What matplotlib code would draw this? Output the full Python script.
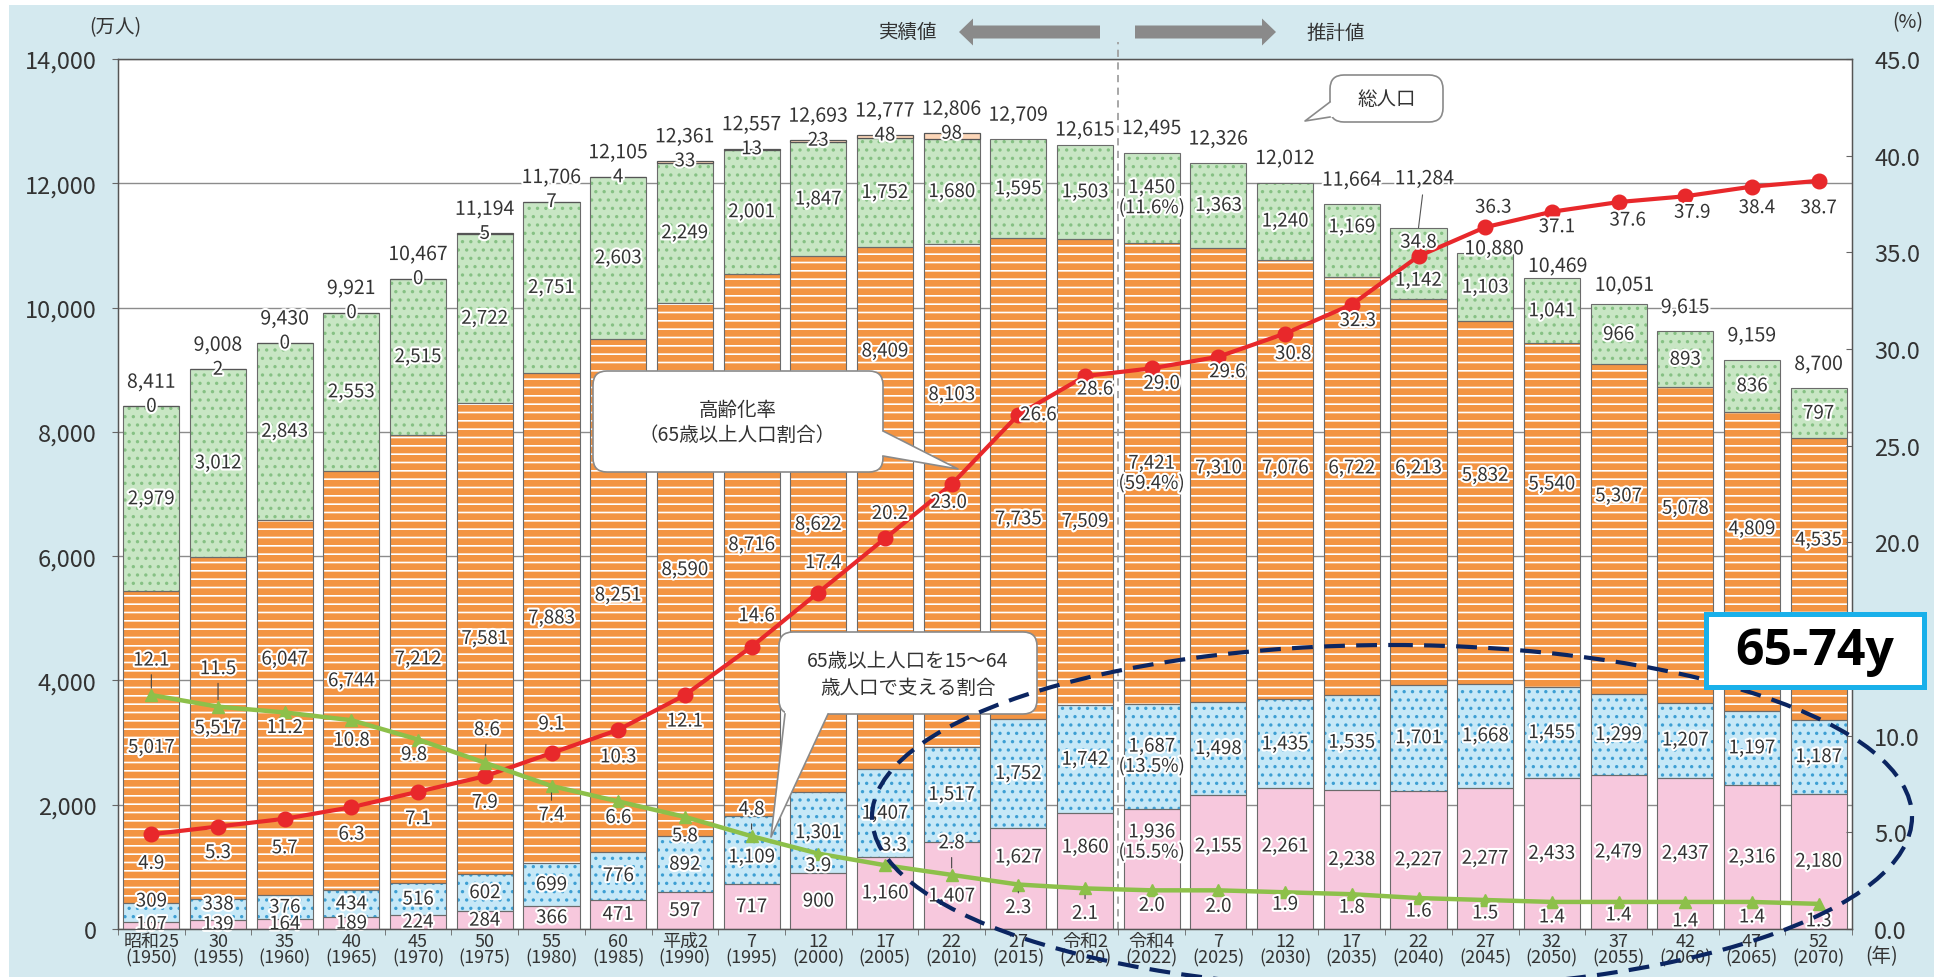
import numpy as np
import matplotlib
matplotlib.use("Agg")
import matplotlib.pyplot as plt
import matplotlib.patheffects as pe
import matplotlib.transforms as mtransforms
from matplotlib.patches import Rectangle, FancyBboxPatch, Polygon, Ellipse, FancyArrow
from matplotlib.lines import Line2D

plt.rcParams['font.family'] = ['Noto Sans CJK JP', 'DejaVu Sans']
plt.rcParams['hatch.linewidth'] = 1.2

W, H = 1934, 978

# --- données ---
era = ["昭和25", "30", "35", "40", "45", "50", "55", "60", "平成2", "7", "12", "17", "22",
       "27", "令和2", "令和4", "7", "12", "17", "22", "27", "32", "37", "42", "47", "52"]
years = [1950, 1955, 1960, 1965, 1970, 1975, 1980, 1985, 1990, 1995, 2000, 2005, 2010,
         2015, 2020, 2022, 2025, 2030, 2035, 2040, 2045, 2050, 2055, 2060, 2065, 2070]
age75 = [107, 139, 164, 189, 224, 284, 366, 471, 597, 717, 900, 1160, 1407,
         1627, 1860, 1936, 2155, 2261, 2238, 2227, 2277, 2433, 2479, 2437, 2316, 2180]
age65 = [309, 338, 376, 434, 516, 602, 699, 776, 892, 1109, 1301, 1407, 1517,
         1752, 1742, 1687, 1498, 1435, 1535, 1701, 1668, 1455, 1299, 1207, 1197, 1187]
age15 = [5017, 5517, 6047, 6744, 7212, 7581, 7883, 8251, 8590, 8716, 8622, 8409, 8103,
         7735, 7509, 7421, 7310, 7076, 6722, 6213, 5832, 5540, 5307, 5078, 4809, 4535]
age0 = [2979, 3012, 2843, 2553, 2515, 2722, 2751, 2603, 2249, 2001, 1847, 1752, 1680,
        1595, 1503, 1450, 1363, 1240, 1169, 1142, 1103, 1041, 966, 893, 836, 797]
unknown = [0, 2, 0, 0, 0, 5, 7, 4, 33, 13, 23, 48, 98]
totals = [8411, 9008, 9430, 9921, 10467, 11194, 11706, 12105, 12361, 12557, 12693, 12777, 12806,
          12709, 12615, 12495, 12326, 12012, 11664, 11284, 10880, 10469, 10051, 9615, 9159, 8700]
aging = [4.9, 5.3, 5.7, 6.3, 7.1, 7.9, 9.1, 10.3, 12.1, 14.6, 17.4, 20.2, 23.0,
         26.6, 28.6, 29.0, 29.6, 30.8, 32.3, 34.8, 36.3, 37.1, 37.6, 37.9, 38.4, 38.7]
support = [12.1, 11.5, 11.2, 10.8, 9.8, 8.6, 7.4, 6.6, 5.8, 4.8, 3.9, 3.3, 2.8,
           2.3, 2.1, 2.0, 2.0, 1.9, 1.8, 1.6, 1.5, 1.4, 1.4, 1.4, 1.4, 1.3]
shares_2022 = [15.5, 13.5, 59.4, 11.6]   # 75+, 65-74, 15-64, 0-14 en 2022
i2022 = 15

# --- placement des étiquettes (pixels / unités) ---
red_off = [(0, -29), (0, -26), (0, -29), (0, -27), (0, -27), (0, -26), (0, 29), (0, -27), (0, -26),
           (5, 31), (5, 30), (5, 25), (-3, -18), (20, 0), (10, -13), (10, -15), (9, -15), (8, -20),
           (6, -16), (0, 14), (8, 20), (5, -15), (9, -18), (7, -16), (5, -21), (0, -27)]
green_off = [(0, 35), (0, 38), (0, -15), (0, -20), (-4, -15), (2, 33), (0, -29), (0, -16), (0, -19),
             (0, 27), (0, -12), (9, 20), (0, 32), (0, -23), (0, -25), (0, -15), (0, -16), (0, -12),
             (0, -13), (0, -13), (0, -13), (0, -15), (0, -13), (0, -19), (0, -15), (0, -17)]
green_leader = {0, 1, 5, 6, 9, 12, 13, 14}
total_off = {14: (0, 15), 19: (6, 49), 20: (9, 4), 21: (6, 12), 22: (6, 19)}
pink_y = {12: 531, 13: 1158, 14: 1319, 15: 1400, 16: 1335, 17: 1335}
blue_y = {0: 450, 1: 400, 9: 1160}
orange_y = {2: 4344, 11: 9300, 12: 8600, 13: 6600, 14: 6560, 16: 7420, 17: 7420, 18: 7420,
            19: 7420, 20: 7300, 21: 7160, 22: 6970, 23: 6770, 24: 6440, 25: 6260}
green_y = {18: 11300, 19: 10440}

TXT = '#333333'
halo = [pe.withStroke(linewidth=3, foreground='white')]

fig = plt.figure(figsize=(W / 100, H / 100), dpi=100, facecolor='white')
PX = mtransforms.Affine2D().scale(1, -1).translate(0, H)
fig.add_artist(Rectangle((9, 6), W, H, transform=PX, fc='#d4e9ef', ec='none', zorder=-10))

ax = fig.add_axes([118 / W, (H - 930) / H, (1852 - 118) / W, 870 / H])
ax.set_facecolor('white')
x = np.arange(len(years))
bw = 0.84

# barres empilées
segs = [(age75, '#f7c8dd', '#f7c8dd', None, pink_y),
        (age65, '#c6e8f7', '#3d9fd3', '..', blue_y),
        (age15, '#f39442', 'white', '--', orange_y),
        (age0, '#c8e6c4', '#86c184', '..', green_y)]
bottom = np.zeros(len(x))
for k, (vals, fc, hc, hatch, ypos) in enumerate(segs):
    v = np.array(vals, float)
    ax.bar(x, v, bw, bottom=bottom, color=fc, edgecolor=hc, hatch=hatch, linewidth=0, zorder=2)
    ax.bar(x, v, bw, bottom=bottom, fill=False, edgecolor='#6b6b6b', linewidth=0.8, zorder=3)
    for i in x:
        y = ypos.get(i, max(bottom[i] + v[i] / 2, 75))
        s = f"{vals[i]:,}"
        if i == i2022:
            s += f"\n({shares_2022[k]}%)"
        ax.text(i, y, s, ha='center', va='center', fontsize=13.5, color=TXT,
                path_effects=halo, zorder=6, linespacing=0.95)
    bottom += v

nu = len(unknown)
ax.bar(x[:nu], unknown, bw, bottom=bottom[:nu], color='#fcd6b8', edgecolor='#555555',
       linewidth=0.9, zorder=3)
tops = bottom.copy()
tops[:nu] += np.array(unknown)
for i in range(nu):
    ax.text(i, tops[i], str(unknown[i]), ha='center', va='center', fontsize=13.5, color=TXT,
            path_effects=halo, zorder=6)

for i in x:
    dx, dy = total_off.get(i, (0, 24))
    props = dict(arrowstyle='-', color='#555', lw=0.8, shrinkA=2, shrinkB=0) if i == 19 else None
    ax.annotate(f"{totals[i]:,}", xy=(i, tops[i]), xytext=(dx, dy), textcoords='offset pixels',
                ha='center', va='center', fontsize=14, color=TXT, zorder=6, arrowprops=props,
                path_effects=halo)

# axes
ax.set_xlim(-0.5, len(x) - 0.5)
ax.set_ylim(0, 14000)
ax.set_yticks(np.arange(0, 14001, 2000))
ax.set_yticklabels([f"{v:,}" for v in range(0, 14001, 2000)])
ax.yaxis.grid(True, color='#8c8c8c', lw=1)
ax.set_axisbelow(True)
ax.set_xticks(x)
ax.set_xticklabels([f"{e}\n({y})" for e, y in zip(era, years)], fontsize=13, color=TXT,
                   linespacing=0.88)
ax.set_xticks(np.arange(-0.5, len(x)), minor=True)
ax.tick_params(axis='x', which='major', length=0, pad=2)
ax.tick_params(axis='x', which='minor', length=4.5, color='#666')
ax.tick_params(axis='y', length=4.5, color='#666', labelsize=17, labelcolor=TXT, pad=11)
for sp in ax.spines.values():
    sp.set_color('#555')
    sp.set_linewidth(1)
ax.plot([14.5, 14.5], [0, 14270], clip_on=False, color='#a0a0a0', lw=1.3,
        ls=(0, (4, 3)), zorder=1.5)

ax2 = ax.twinx()
ax2.set_ylim(0, 45)
ax2.set_yticks(np.arange(0, 46, 5))
ax2.set_yticklabels([f"{v:.1f}" for v in np.arange(0, 46, 5)])
ax2.tick_params(axis='y', direction='in', length=4.5, color='#666', labelsize=17,
                labelcolor=TXT, pad=16)
for sp in ax2.spines.values():
    sp.set_color('#555')

ax2.plot(x, aging, color='#e8282b', lw=3, marker='o', ms=10.5, zorder=5)
ax2.plot(x, support, color='#8dc04a', lw=3.2, marker='^', ms=8.5, zorder=5)
for i in x:
    dx, dy = red_off[i]
    ax2.annotate(f"{aging[i]:.1f}", xy=(i, aging[i]), xytext=(dx, dy), textcoords='offset pixels',
                 ha='center', va='center', fontsize=13.5, color=TXT, path_effects=halo, zorder=7)
    dx, dy = green_off[i]
    props = dict(arrowstyle='-', color='#444', lw=0.8, shrinkA=1, shrinkB=5) if i in green_leader else None
    ax2.annotate(f"{support[i]:.1f}", xy=(i, support[i]), xytext=(dx, dy), textcoords='offset pixels',
                 ha='center', va='center', fontsize=13.5, color=TXT, path_effects=halo, zorder=7,
                 arrowprops=props)

# --- textes d'en-tête ---
fig.text(115, 28, "(万人)", transform=PX, ha='center', va='center', fontsize=14, color=TXT)
fig.text(1908, 23, "(%)", transform=PX, ha='center', va='center', fontsize=14, color=TXT)
fig.text(1882, 957, "(年)", transform=PX, ha='center', va='center', fontsize=14, color=TXT)
fig.text(908, 32, "実績値", transform=PX, ha='center', va='center', fontsize=14, color=TXT)
fig.text(1336, 33, "推計値", transform=PX, ha='center', va='center', fontsize=14, color=TXT)
fig.add_artist(FancyArrow(1100, 33, -141, 0, width=13, head_width=27, head_length=14,
                          length_includes_head=True, transform=PX, color='#8a8a8a', lw=0))
fig.add_artist(FancyArrow(1135, 33, 141, 0, width=13, head_width=27, head_length=14,
                          length_includes_head=True, transform=PX, color='#8a8a8a', lw=0))


def callout(x0, y0, x1, y1, b1, b2, tip, inward, lines):
    fig.add_artist(FancyBboxPatch((x0, y0), x1 - x0, y1 - y0,
                                  boxstyle="round,pad=0,rounding_size=14", transform=PX,
                                  fc='white', ec='#8a8a8a', lw=1.2, zorder=7))
    b1i = (b1[0] + inward[0], b1[1] + inward[1])
    b2i = (b2[0] + inward[0], b2[1] + inward[1])
    fig.add_artist(Polygon([b1i, b1, tip, b2, b2i], closed=True, transform=PX,
                           fc='white', ec='none', zorder=8))
    fig.add_artist(Line2D([b1[0], tip[0], b2[0]], [b1[1], tip[1], b2[1]], transform=PX,
                          color='#8a8a8a', lw=1.2, zorder=9))
    for (tx, ty, s) in lines:
        fig.text(tx, ty, s, transform=PX, ha='center', va='center', fontsize=14,
                 color=TXT, zorder=10)


callout(593, 372, 883, 473, (883, 432), (883, 457), (958, 470), (-3, 0),
        [(738, 411, "高齢化率"), (737, 435, "（65歳以上人口割合）")])
callout(779, 633, 1037, 715, (785, 715), (828, 715), (771, 838), (0, -3),
        [(908, 662, "65歳以上人口を15～64"), (908, 688, "歳人口で支える割合")])
callout(1330, 76, 1443, 123, (1330, 103), (1330, 118), (1305, 122), (3, 0),
        [(1387, 100, "総人口")])

# --- annotations ajoutées : ellipse et encadré ---
fig.add_artist(Ellipse((1392, 818), 1040, 344, transform=PX, fill=False, ec='#0b2561',
                       lw=3, ls=(0, (5, 2.7)), zorder=11))
fig.add_artist(Rectangle((1706, 615), 218, 73, transform=PX, fc='white', ec='#19b0ea',
                         lw=3.6, zorder=12))
fig.text(1815, 652, "65-74y", transform=PX, ha='center', va='center', fontsize=36,
         fontweight='bold', family=['Open Sans', 'DejaVu Sans'], color='black', zorder=13)

fig.savefig("out.png", dpi=100)
